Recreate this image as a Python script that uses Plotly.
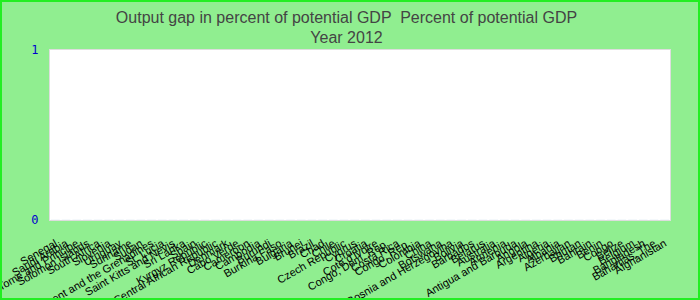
import plotly.graph_objects as go

countries = [
    "Senegal", "Saudi Arabia", "Sao Tome and Principe", "Solomon Islands",
    "South Africa", "Slovenia", "Uruguay", "Suriname", "Sudan",
    "St. Vincent and the Grenadines", "St. Lucia", "Saint Kitts and Nevis",
    "Sri Lanka", "Spain", "Kyrgyz Republic", "Central African Republic",
    "Denmark", "Cabo Verde", "Cameroon", "Cambodia", "Burundi",
    "Burkina Faso", "Bulgaria", "Brunei", "Brazil", "Chad", "Chile",
    "Czech Republic", "Cyprus", "Croatia", "Cote d'Ivoire",
    "Congo, Dem. Rep.", "Costa Rica", "Congo, Rep.", "Colombia", "China",
    "Botswana", "Bosnia and Herzegovina", "Bolivia", "Barbados", "Belarus",
    "Australia", "Armenia", "Antigua and Barbuda", "Angola", "Argentina",
    "Algeria", "Albania", "Azerbaijan", "Bhutan", "Bahrain", "Benin",
    "Congo", "Belize", "Belgium", "Bangladesh", "Bahamas, The", "Afghanistan",
]
values = [0] * len(countries)
y_ticks = [0, 1]

W, H = 700, 300
ML, MR, MT, MB = 50, 30, 50, 80
pw, ph = W - ML - MR, H - MT - MB

fig = go.Figure(go.Bar(x=countries, y=values, marker_color="#4472c4"))

fig.update_layout(
    width=W, height=H,
    margin=dict(l=ML, r=MR, t=MT, b=MB, pad=0, autoexpand=False),
    paper_bgcolor="#90EE90",
    plot_bgcolor="white",
    showlegend=False,
    title=dict(
        text="Output gap in percent of potential GDP  Percent of potential GDP<br>Year 2012",
        x=0.495, xanchor="center", xref="container",
        yref="container", y=0.925, yanchor="middle",
        font=dict(family="Liberation Sans, Arial", size=16, color="#444444"),
    ),
    font=dict(family="Liberation Sans, Arial", size=11, color="#000000"),
)

fig.update_xaxes(
    type="category", automargin=False,
    tickmode="array", tickvals=countries, ticktext=countries,
    tickangle=-30,
    tickfont=dict(family="Liberation Sans, Arial", size=11, color="#000000"),
    ticks="", ticklabelstandoff=12,
    showgrid=False, zeroline=False,
    showline=True, linecolor="#dddddd", linewidth=1, mirror=True,
)
fig.update_yaxes(
    range=[0, 1], automargin=False, tickmode="array", tickvals=y_ticks,
    ticktext=[str(v) for v in y_ticks],
    tickfont=dict(family="DejaVu Sans Mono, monospace", size=12, color="#0000CD"),
    ticks="", ticklabelstandoff=8,
    showgrid=False, zeroline=False,
    showline=True, linecolor="#dddddd", linewidth=1, mirror=True,
)

# outer lime border around the whole figure
inset = 1
fig.add_shape(
    type="rect", xref="paper", yref="paper",
    x0=(-ML + inset) / pw, x1=1 + (MR - inset) / pw,
    y0=(-MB + inset) / ph, y1=1 + (MT - inset) / ph,
    line=dict(color="#22ee22", width=2), fillcolor="rgba(0,0,0,0)",
    layer="above",
)

fig.write_html("out.html")
